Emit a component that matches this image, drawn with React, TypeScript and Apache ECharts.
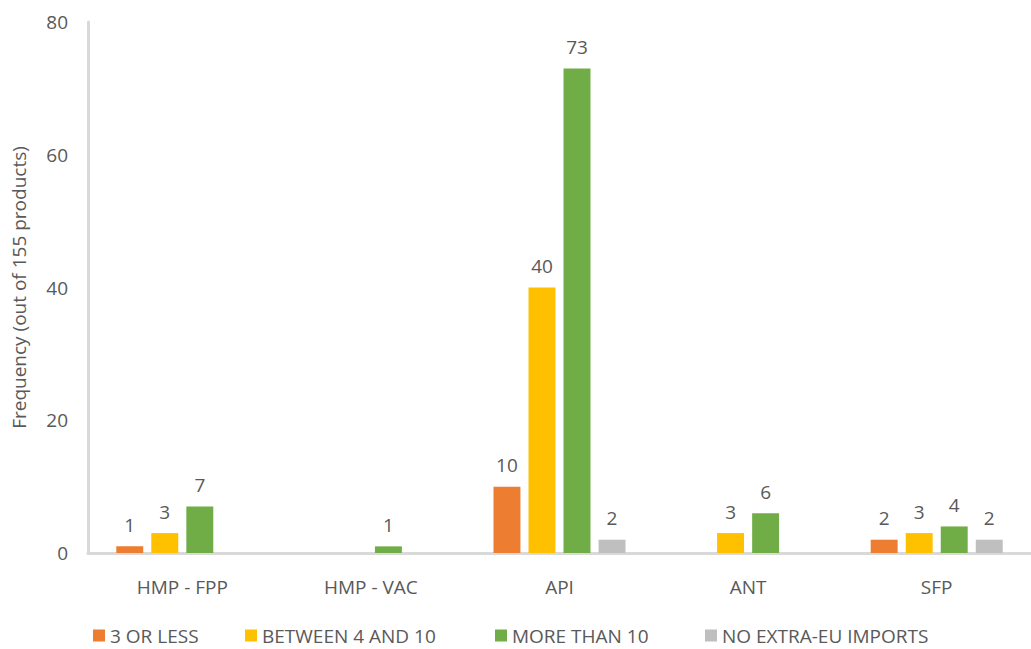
import React, { useEffect, useRef } from "react";
import * as echarts from "echarts";

const categories = ["HMP - FPP", "HMP - VAC", "API", "ANT", "SFP"];
const seriesNames = ["3 OR LESS", "BETWEEN 4 AND 10", "MORE THAN 10", "NO EXTRA-EU IMPORTS"];
const threeOrLess = [1, 0, 10, 0, 2];
const between4And10 = [3, 0, 40, 3, 3];
const moreThan10 = [7, 1, 73, 6, 4];
const noExtraEU = [0, 0, 2, 0, 2];
const colors = ["#ED7D31", "#FFC000", "#70AD47", "#BFBFBF"];
const yTicks = [0, 20, 40, 60, 80];

const FONT = "'Open Sans', 'Liberation Sans', sans-serif";
const TXT = "#595959";
const legendLefts = [93, 245, 495, 705];

export default function App() {
  const ref = useRef<HTMLDivElement>(null);
  useEffect(() => {
    const chart = echarts.init(ref.current!, null, { renderer: "svg" });
    const all = [threeOrLess, between4And10, moreThan10, noExtraEU];
    chart.setOption({
      animation: false,
      textStyle: { fontFamily: FONT },
      grid: { left: 88, right: 0, top: 22, bottom: 96, outerBoundsMode: "none", containLabel: false },
      legend: seriesNames.map((name, i) => ({
        top: 626,
        left: legendLefts[i],
        padding: 0,
        itemWidth: 12,
        itemHeight: 12,
        itemGap: 10,
        icon: "rect",
        textStyle: { color: TXT, fontSize: 19, fontFamily: FONT },
        data: [name],
      })),
      xAxis: {
        type: "category",
        data: categories,
        axisLine: { lineStyle: { color: "#D9D9D9", width: 3 } },
        axisTick: { show: false },
        axisLabel: { color: TXT, fontSize: 19, margin: 24, fontFamily: FONT },
      },
      yAxis: {
        type: "value",
        min: yTicks[0],
        max: yTicks[yTicks.length - 1],
        interval: 20,
        name: "Frequency (out of 155 products)",
        nameLocation: "middle",
        nameRotate: 90,
        nameGap: 60,
        nameTextStyle: { color: TXT, fontSize: 19, fontFamily: FONT },
        axisLine: { show: true, lineStyle: { color: "#D9D9D9", width: 3 } },
        axisTick: { show: false },
        splitLine: { show: false },
        axisLabel: { color: TXT, fontSize: 19, margin: 20, fontFamily: FONT },
      },
      series: seriesNames.map((name, i) => ({
        name,
        type: "bar",
        data: all[i],
        barGap: "30%",
        barCategoryGap: "30%",
        itemStyle: { color: colors[i] },
        label: {
          show: true,
          position: "top",
          distance: 12,
          color: TXT,
          fontSize: 19,
          fontFamily: FONT,
          formatter: (p: any) => (p.value === 0 ? "" : String(p.value)),
        },
      })),
    });
    return () => chart.dispose();
  }, []);
  return (
    <div
      ref={ref}
      style={{ position: "fixed", left: 0, top: 0, width: 1031, height: 649, background: "#fff" }}
    />
  );
}
